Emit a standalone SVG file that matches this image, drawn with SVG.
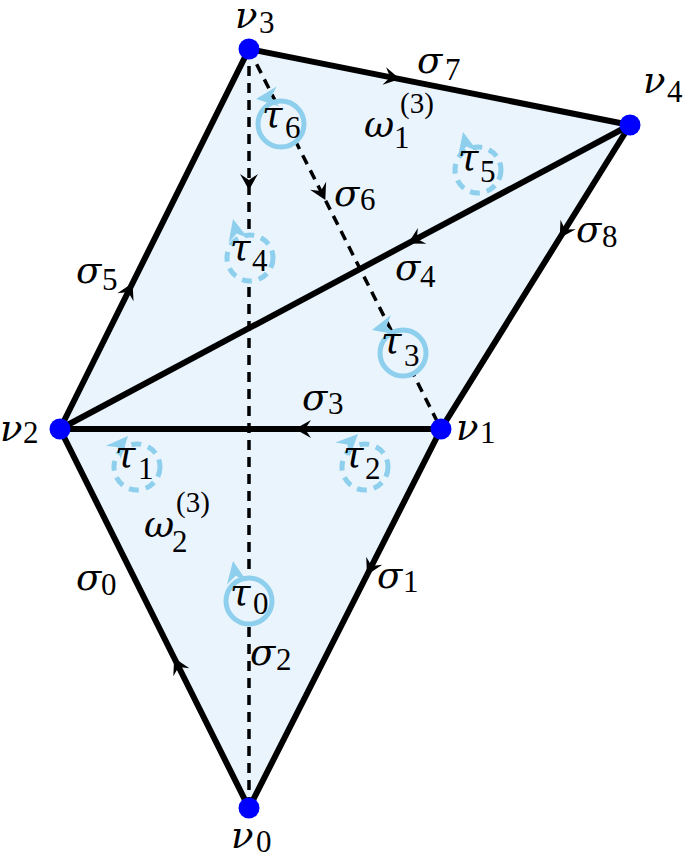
<svg xmlns="http://www.w3.org/2000/svg" width="685" height="858" viewBox="0 0 685 858">
<defs>
<style>
.fill{fill:#eaf4fd;stroke:none}
.edge{fill:none;stroke:#000;stroke-width:6;stroke-linejoin:round;marker-mid:url(#arr)}
.dash{fill:none;stroke:#000;stroke-width:3.5;stroke-dasharray:10,7;marker-mid:url(#arr)}
.tau{fill:#eaf4fd;stroke:#8dcfec;stroke-width:5}
.taud{fill:#eaf4fd;stroke:#8dcfec;stroke-width:5;stroke-dasharray:10,7}
.tarr{fill:#8dcfec}
.node{fill:#0000ff}
.m{font-family:"DejaVu Serif",serif;font-style:italic;font-size:37px;fill:#000}
.d{font-family:"Liberation Serif","Times New Roman",serif;font-style:normal;font-size:31px;fill:#000}
.sup{font-family:"Liberation Serif","Times New Roman",serif;font-style:normal;font-size:29px;fill:#000}
</style>
<marker id="arr" markerUnits="userSpaceOnUse" markerWidth="40" markerHeight="40" viewBox="-20 -20 40 40" refX="0" refY="0" orient="auto" overflow="visible">
<path d="M0,0 L-16,-9 L-10,0 L-16,9 Z" fill="#000"/>
</marker>
<path id="ta" d="M0,0 L-22,-10 L-15,0 L-22,10 Z"/>
</defs>

<polygon class="fill" points="249,49 630,125 441,429 249,808 60,429"/>

<g id="connectors">
<path id="s2" class="dash" d="M249,49 L249,190 L249,808"/>
<path id="s6" class="dash" d="M249,49 L325.3,200 L441,429"/>
</g>

<g id="tau0"><circle class="tau" cx="249" cy="601" r="23"/><use href="#ta" class="tarr" transform="translate(233,561) rotate(-100)"/><text class="m" x="230" y="605">τ</text><text class="d" x="253" y="614">0</text></g>
<g id="tau1"><circle class="taud" cx="137" cy="467" r="23"/><use href="#ta" class="tarr" transform="translate(128,436) rotate(-48)"/><text class="m" x="115" y="467">τ</text><text class="d" x="138" y="479">1</text></g>
<g id="tau2"><circle class="taud" cx="365" cy="467" r="23"/><use href="#ta" class="tarr" transform="translate(358,434) rotate(-45)"/><text class="m" x="343" y="467">τ</text><text class="d" x="365" y="479">2</text></g>
<g id="tau3"><circle class="tau" cx="403" cy="353" r="23"/><use href="#ta" class="tarr" transform="translate(372,330) rotate(166)"/><text class="m" x="381" y="353">τ</text><text class="d" x="404" y="366">3</text></g>
<g id="tau4"><circle class="taud" cx="250" cy="258" r="23"/><use href="#ta" class="tarr" transform="translate(233,219) rotate(-104)"/><text class="m" x="230" y="260">τ</text><text class="d" x="252" y="271">4</text></g>
<g id="tau5"><circle class="taud" cx="478" cy="170" r="23"/><use href="#ta" class="tarr" transform="translate(463,132) rotate(-103)"/><text class="m" x="458" y="170">τ</text><text class="d" x="480" y="182">5</text></g>
<g id="tau6"><circle class="tau" cx="281" cy="124" r="23"/><use href="#ta" class="tarr" transform="translate(256,99) rotate(173)"/><text class="m" x="262" y="127">τ</text><text class="d" x="285" y="138">6</text></g>

<g id="edges">
<path id="s7" class="edge" d="M249,49 L400,79.1 L630,125"/>
<path id="s8" class="edge" d="M630,125 L559.7,238 L441,429"/>
<path id="s4" class="edge" d="M630,125 L408,243.4 L60,429"/>
<path id="s3" class="edge" d="M441,429 L295,429 L60,429"/>
<path id="s5" class="edge" d="M60,429 L132.6,283 L249,49"/>
<path id="s1" class="edge" d="M441,429 L367,575 L249,808"/>
<path id="s0" class="edge" d="M249,808 L174.2,658 L60,429"/>
</g>

<g id="v0"><circle class="node" cx="249" cy="808" r="10.5"/><text class="m" x="231" y="848">ν</text><text class="d" x="256" y="852">0</text></g>
<g id="v1"><circle class="node" cx="441" cy="429" r="10.5"/><text class="m" x="456" y="440">ν</text><text class="d" x="480" y="443">1</text></g>
<g id="v2"><circle class="node" cx="60" cy="429" r="10.5"/><text class="m" x="0" y="441">ν</text><text class="d" x="23" y="443">2</text></g>
<g id="v3"><circle class="node" cx="249" cy="49" r="10.5"/><text class="m" x="235" y="28">ν</text><text class="d" x="259" y="33">3</text></g>
<g id="v4"><circle class="node" cx="630" cy="125" r="10.5"/><text class="m" x="643" y="93">ν</text><text class="d" x="667" y="102">4</text></g>

<g id="labels">
<text class="m" x="417" y="73">σ</text><text class="d" x="445" y="80">7</text>
<text class="m" x="334" y="206">σ</text><text class="d" x="360" y="210">6</text>
<text class="m" x="576" y="242">σ</text><text class="d" x="602" y="247">8</text>
<text class="m" x="395" y="280">σ</text><text class="d" x="420" y="287">4</text>
<text class="m" x="76" y="283">σ</text><text class="d" x="102" y="290">5</text>
<text class="m" x="302" y="410">σ</text><text class="d" x="328" y="414">3</text>
<text class="m" x="377" y="588">σ</text><text class="d" x="403" y="592">1</text>
<text class="m" x="76" y="590">σ</text><text class="d" x="101" y="595">0</text>
<text class="m" x="250" y="665">σ</text><text class="d" x="276" y="670">2</text>
<text class="m" x="364" y="137">ω</text><text class="d" x="394" y="148">1</text><text class="sup" x="400" y="113">(3)</text>
<text class="m" x="144" y="537">ω</text><text class="d" x="172" y="552">2</text><text class="sup" x="176" y="512">(3)</text>
</g>
</svg>
